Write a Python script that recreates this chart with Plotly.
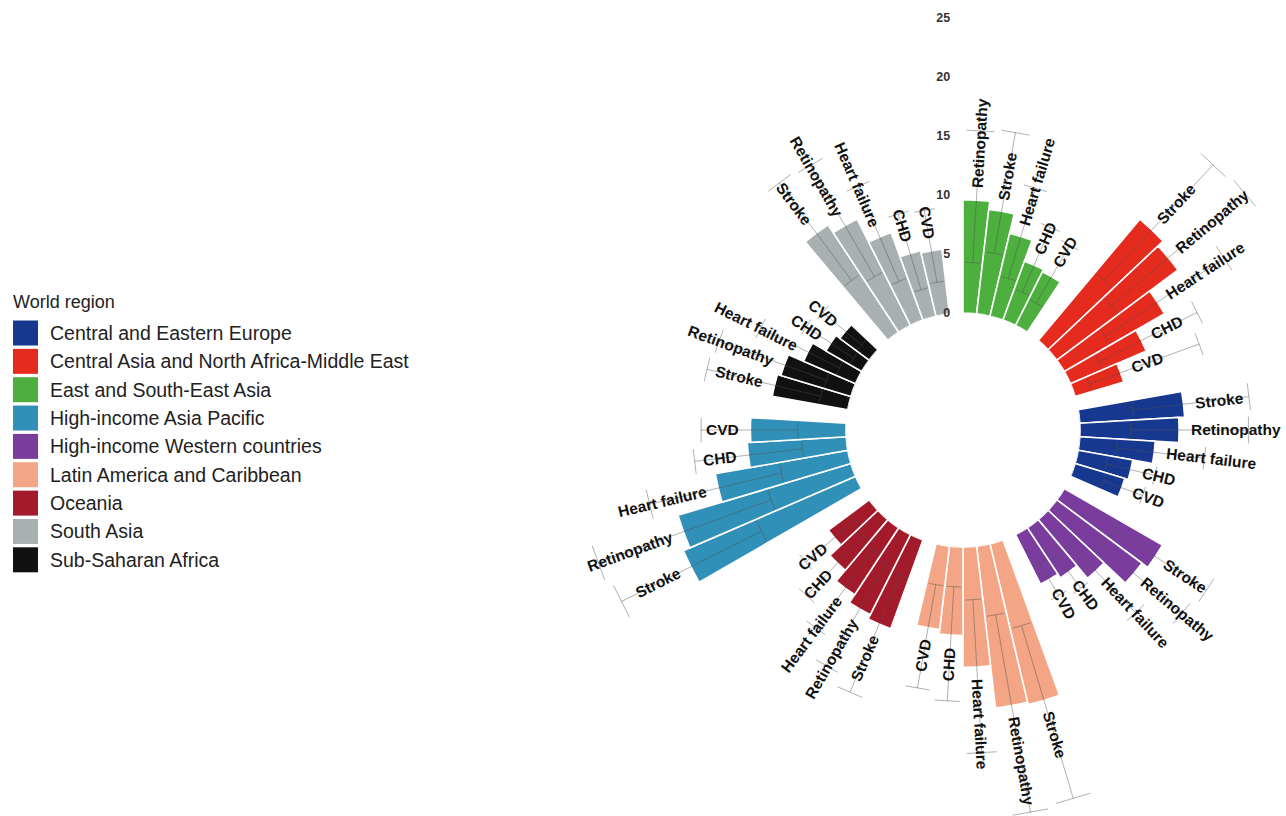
import math
import plotly.graph_objects as go

# ---------------- data ----------------
regions = [
    "Central and Eastern Europe",
    "Central Asia and North Africa-Middle East",
    "East and South-East Asia",
    "High-income Asia Pacific",
    "High-income Western countries",
    "Latin America and Caribbean",
    "Oceania",
    "South Asia",
    "Sub-Saharan Africa",
]
region_colors = ["#16398F", "#E52A1E", "#4CAF3E", "#3190B8", "#7A3D9E",
                 "#F3A585", "#A31B2B", "#A9B0B1", "#111111"]

# clockwise order of the groups around the circle, starting at 12 o'clock
circle_order = [
    "East and South-East Asia",
    "Central Asia and North Africa-Middle East",
    "Central and Eastern Europe",
    "High-income Western countries",
    "Latin America and Caribbean",
    "Oceania",
    "High-income Asia Pacific",
    "Sub-Saharan Africa",
    "South Asia",
]

outcomes = ["CVD", "CHD", "Heart failure", "Retinopathy", "Stroke"]

# values listed in the order of `regions`
cvd_est = [4.4, 4.3, 5.1, 8.1, 4.7, 7.1, 4.3, 5.5, 3.1]
cvd_lo = [2.8, 1.5, 2.5, 4.1, 3.2, 3.4, 2.0, 2.8, 1.3]
cvd_hi = [6.3, 11.4, 8.2, 12.3, 6.3, 12.3, 7.5, 9.0, 5.6]

chd_est = [4.7, 7.0, 5.3, 8.4, 5.1, 7.5, 5.6, 5.7, 3.5]
chd_lo = [2.6, 3.0, 2.8, 3.8, 3.4, 3.4, 2.4, 2.5, 1.2]
chd_hi = [6.8, 12.3, 8.8, 13.0, 6.8, 13.1, 9.4, 9.2, 6.0]

hf_est = [6.4, 9.8, 7.2, 11.4, 6.5, 10.2, 6.8, 7.9, 4.8]
hf_lo = [3.2, 4.5, 3.5, 5.9, 3.3, 4.5, 2.8, 3.8, 1.8]
hf_hi = [10.7, 16.6, 11.5, 17.4, 11.4, 17.5, 11.0, 12.6, 9.3]

ret_est = [8.4, 12.8, 9.6, 15.3, 9.0, 13.8, 7.6, 10.1, 6.2]
ret_lo = [4.3, 6.5, 4.3, 7.4, 5.0, 6.0, 3.2, 5.1, 2.4]
ret_hi = [14.3, 21.3, 15.5, 23.0, 14.3, 23.0, 13.2, 16.0, 12.1]

stroke_est = [8.9, 13.4, 8.9, 15.9, 9.6, 14.0, 8.0, 10.9, 6.5]
stroke_lo = [4.6, 7.5, 5.3, 9.2, 5.5, 7.4, 3.5, 5.9, 2.5]
stroke_hi = [14.5, 21.0, 15.7, 22.5, 14.8, 22.7, 14.3, 16.2, 12.4]

radial_ticks = [0, 5, 10, 15, 20, 25]
legend_title = "World region"

est = dict(zip(outcomes, [cvd_est, chd_est, hf_est, ret_est, stroke_est]))
low = dict(zip(outcomes, [cvd_lo, chd_lo, hf_lo, ret_lo, stroke_lo]))
high = dict(zip(outcomes, [cvd_hi, chd_hi, hf_hi, ret_hi, stroke_hi]))

# ---------------- geometry / style ----------------
FIG_W, FIG_H = 1375, 842
CX, CY = 963, 430          # centre of the circle (px from left / top)
R_PX = 412                 # outer radius (value 25)
HOLE_PX = 117              # inner hole radius (value 0)
R_MAX = radial_ticks[-1]
FONT = "Liberation Sans, Arial, Helvetica, sans-serif"
LABEL_FS = 15.5

n_out = len(outcomes)
n_slots = len(circle_order) * (n_out + 1)
slot_deg = 360.0 / n_slots
hole = HOLE_PX / R_PX
ppu = (R_PX - HOLE_PX) / R_MAX      # px per data unit
hole_u = HOLE_PX / ppu
rho_max = R_PX / ppu

dom_x = [(CX - R_PX) / FIG_W, min(1.0, (CX + R_PX) / FIG_W)]
dom_y = [max(0.0, (FIG_H - CY - R_PX) / FIG_H), min(1.0, (FIG_H - CY + R_PX) / FIG_H)]

# Arial-bold advance widths (per 1000 em) for label length estimation
bold_w = {'S': 667, 't': 333, 'r': 389, 'o': 611, 'k': 556, 'e': 556, 'R': 722,
          'i': 278, 'n': 611, 'p': 611, 'a': 556, 'h': 611, 'y': 556, 'H': 722,
          ' ': 278, 'f': 333, 'l': 278, 'u': 611, 'C': 722, 'D': 722, 'V': 667}


def text_px(s, fs):
    return sum(bold_w.get(c, 600) for c in s) * fs / 1000.0


fig = go.Figure()

err_r, err_t = [], []
annotations = []
cap = 0.4 * slot_deg
gap_u = 12 / ppu

for g, reg in enumerate(circle_order):
    k = regions.index(reg)
    color = region_colors[k]
    rows = [(est[o][k], low[o][k], high[o][k], o) for o in outcomes]
    rows.sort(key=lambda t: -t[0])
    thetas = [(g * (n_out + 1) + j + 0.5) * slot_deg for j in range(n_out)]
    fig.add_trace(go.Barpolar(
        r=[t[0] for t in rows], theta=thetas, width=[slot_deg] * n_out,
        marker=dict(color=color, line=dict(color="white", width=1.6)),
        name=reg, showlegend=False, hoverinfo="skip"))
    for (v, lo_v, hi_v, o), th in zip(rows, thetas):
        err_r += [lo_v, hi_v, None, hi_v, hi_v, None, lo_v, lo_v, None]
        err_t += [th, th, None, th - cap, th + cap, None, th - cap, th + cap, None]
        w_u = text_px(o, LABEL_FS) / ppu
        rho = hole_u + v + gap_u + w_u / 2
        rad = math.radians(th)
        ang = th - 90 if th < 180 else th - 270
        annotations.append(dict(
            x=rho * math.sin(rad), y=rho * math.cos(rad), xref="x", yref="y",
            text=o, showarrow=False, textangle=ang, xanchor="center", yanchor="middle",
            font=dict(family=FONT, size=LABEL_FS, color="#111111", weight="bold")))

fig.add_trace(go.Scatterpolar(
    r=err_r, theta=err_t, mode="lines", connectgaps=False,
    line=dict(color="rgba(80,80,80,0.45)", width=1),
    showlegend=False, hoverinfo="skip"))

# invisible anchor trace for the label overlay axes
fig.add_trace(go.Scatter(x=[0], y=[0], mode="markers", marker=dict(size=1, opacity=0),
                         xaxis="x", yaxis="y", showlegend=False, hoverinfo="skip"))

# ---------------- hand-built legend ----------------
LEG_X_SQ = 25.5
LEG_X_TXT = 48
LEG_Y0 = 333
LEG_STEP = 28.35
leg_y = [LEG_Y0 + LEG_STEP * i for i in range(len(regions))]
fig.add_trace(go.Scatter(
    x=[LEG_X_SQ] * len(regions), y=leg_y, mode="markers",
    marker=dict(symbol="square", size=25, color=region_colors, line=dict(width=0)),
    xaxis="x2", yaxis="y2", showlegend=False, hoverinfo="skip"))
for reg, yy in zip(regions, leg_y):
    annotations.append(dict(x=LEG_X_TXT, y=yy, xref="x2", yref="y2", text=reg,
                            showarrow=False, xanchor="left", yanchor="middle",
                            font=dict(family=FONT, size=19.5, color="#222222")))
annotations.append(dict(x=11, y=LEG_Y0 - 31, xref="x2", yref="y2", text=legend_title,
                        showarrow=False, xanchor="left", yanchor="middle",
                        font=dict(family=FONT, size=18, color="#222222")))

fig.update_layout(
    width=FIG_W, height=FIG_H,
    margin=dict(l=0, r=0, t=0, b=0, pad=0),
    paper_bgcolor="white", plot_bgcolor="rgba(0,0,0,0)",
    showlegend=False,
    polar=dict(
        domain=dict(x=dom_x, y=dom_y),
        hole=hole,
        bgcolor="rgba(0,0,0,0)",
        barmode="overlay",
        radialaxis=dict(range=[0, R_MAX], tickvals=radial_ticks, angle=90,
                        side="counterclockwise", showline=False, showgrid=False,
                        ticks="outside", ticklen=8, tickcolor="rgba(0,0,0,0)",
                        tickangle=90,
                        tickfont=dict(family=FONT, size=12.5, color="#333333", weight="bold")),
        angularaxis=dict(rotation=90, direction="clockwise", showline=False,
                         showgrid=False, ticks="", showticklabels=False),
    ),
    xaxis=dict(domain=dom_x, range=[-rho_max, rho_max], visible=False, fixedrange=True),
    yaxis=dict(domain=dom_y, range=[-rho_max, rho_max], visible=False, fixedrange=True,
               anchor="x"),
    xaxis2=dict(domain=[0, 0.36], range=[0, 0.36 * FIG_W], visible=False, fixedrange=True,
                anchor="y2"),
    yaxis2=dict(domain=[0, 1], range=[FIG_H, 0], visible=False, fixedrange=True,
                anchor="x2"),
    annotations=annotations,
)

fig.write_html("out.html")
